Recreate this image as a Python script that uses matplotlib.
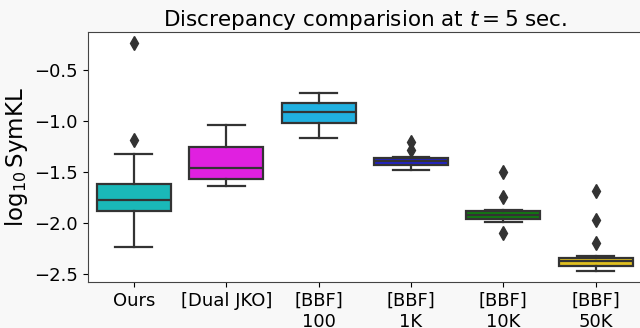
import numpy as np
import matplotlib
matplotlib.use("Agg")
import matplotlib.pyplot as plt

labels = ["Ours", "[Dual JKO]", "[BBF]\n100", "[BBF]\n1K", "[BBF]\n10K", "[BBF]\n50K"]
colors = ["#1ab8b8", "#e020e0", "#20b0e0", "#2222c8", "#117a11", "#e0c020"]

whislo = [-2.238, -1.637, -1.163, -1.474, -1.993, -2.467]
q1 = [-1.882, -1.572, -1.016, -1.428, -1.958, -2.418]
med = [-1.775, -1.461, -0.915, -1.392, -1.925, -2.373]
q3 = [-1.618, -1.252, -0.820, -1.366, -1.882, -2.337]
whishi = [-1.324, -1.039, -0.722, -1.353, -1.873, -2.324]
fliers = [[-0.238, -1.186], [], [], [-1.203, -1.284],
          [-1.503, -1.748, -2.095], [-1.680, -1.974, -2.196]]

stats = [dict(whislo=a, q1=b, med=c, q3=d, whishi=e, fliers=f, label=l)
         for a, b, c, d, e, f, l in zip(whislo, q1, med, q3, whishi, fliers, labels)]

fig = plt.figure(figsize=(6.4, 3.28), dpi=100, facecolor="#f8f8f8")
ax = fig.add_axes([0.137, 0.14, 0.866, 0.762])
line_c = "#333333"
bp = ax.bxp(stats, positions=range(6), widths=0.8, patch_artist=True,
            boxprops=dict(edgecolor=line_c, linewidth=1.6),
            medianprops=dict(color=line_c, linewidth=1.6),
            whiskerprops=dict(color=line_c, linewidth=1.6),
            capprops=dict(color=line_c, linewidth=1.6),
            flierprops=dict(marker="d", markerfacecolor=line_c, markeredgecolor=line_c,
                            markersize=7))
for patch, c in zip(bp["boxes"], colors):
    patch.set_facecolor(c)

ax.set_xlim(-0.5, 5.5)
ax.set_ylim(-2.578, -0.127)
ax.set_yticks([-0.5, -1.0, -1.5, -2.0, -2.5])
ax.tick_params(labelsize=13)
ax.set_ylabel(r"$\log_{10}$SymKL", fontsize=16.5, labelpad=3)
ax.set_title(r"Discrepancy comparision at $t = 5$ sec.", fontsize=15.5, pad=4)
for s in ax.spines.values():
    s.set_color("#444444")
fig.savefig("out.png", dpi=100, facecolor=fig.get_facecolor())
